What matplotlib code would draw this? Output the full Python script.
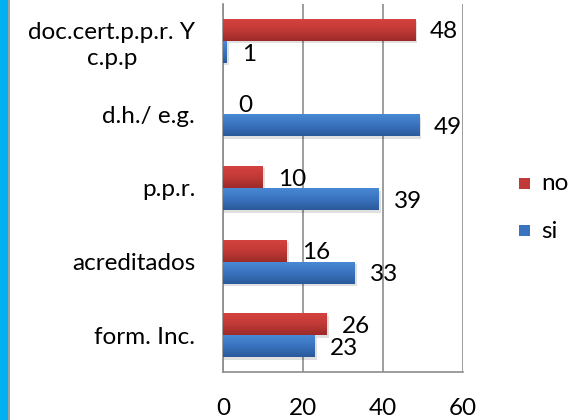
import numpy as np
import matplotlib.pyplot as plt
from matplotlib.patches import Rectangle
from matplotlib.colors import LinearSegmentedColormap

plt.rcParams['font.family'] = ['Lato', 'DejaVu Sans']

''' data '''
categories = ['form. Inc.', 'acreditados', 'p.p.r.', 'd.h./ e.g.', 'doc.cert.p.p.r. Y\nc.p.p']
si = [23, 33, 39, 49, 1]
no = [26, 16, 10, 0, 48]
xticks = [0, 20, 40, 60]

FS = 17.5

''' figure '''
fig = plt.figure(figsize=(5.87, 4.2), dpi=100)
fig.patches.append(Rectangle((0, 0), 8 / 587, 1, transform=fig.transFigure,
                             facecolor='#00b0f0', edgecolor='none', zorder=0))
fig.patches.append(Rectangle((8 / 587, 0), 1.5 / 587, 1, transform=fig.transFigure,
                             facecolor='#a0a0a0', edgecolor='none', zorder=0))

ax = fig.add_axes([223 / 587, 48 / 420, 240 / 587, 368 / 420])

y = np.arange(len(categories))
h = 0.30

red_cmap = LinearSegmentedColormap.from_list('r', ['#d6433f', '#c23a37', '#9c2a28'])
blue_cmap = LinearSegmentedColormap.from_list('b', ['#4a8ad6', '#3a74c0', '#2a5a9a'])


def gradient_bars(ypos, vals, cmap):
    bars = ax.barh(ypos, vals, height=h, color='none', edgecolor='none', zorder=3)
    grad = np.linspace(0, 1, 64).reshape(-1, 1)
    for b in bars:
        x0, y0 = b.get_x(), b.get_y()
        w, hh = b.get_width(), b.get_height()
        if w <= 0:
            continue
        # soft shadow under the bar
        ax.add_patch(Rectangle((x0, y0 - 0.035), w + 0.4, hh, facecolor='#000000',
                               alpha=0.12, edgecolor='none', zorder=2))
        im = ax.imshow(grad, cmap=cmap, aspect='auto', origin='upper',
                       extent=(x0, x0 + w, y0, y0 + hh), zorder=3)
        im.set_clip_path(b)
    return bars


gradient_bars(y + h / 2, no, red_cmap)
gradient_bars(y - h / 2, si, blue_cmap)

for yi, v in zip(y, no):
    ax.text(v + 3.8, yi + h / 2 - 0.03, str(v), va='center', ha='left', fontsize=FS)
for yi, v in zip(y, si):
    ax.text(v + 3.8, yi - h / 2 - 0.03, str(v), va='center', ha='left', fontsize=FS)

ax.set_xlim(0, 60)
ax.set_ylim(-0.5, 4.5)
ax.set_xticks(xticks)
ax.set_xticklabels([str(t) for t in xticks], fontsize=FS)
ax.set_yticks(y)
ax.set_yticklabels(categories, fontsize=FS, ha='right', multialignment='center',
                   linespacing=1.3)
ax.tick_params(axis='y', length=0, pad=20)
ax.tick_params(axis='x', length=0, pad=19)
ax.grid(axis='x', color='#8c8c8c', linewidth=1.2, zorder=1)
ax.set_axisbelow(True)
for s in ['top', 'right']:
    ax.spines[s].set_visible(False)
for s in ['left', 'bottom']:
    ax.spines[s].set_color('#8c8c8c')
    ax.spines[s].set_linewidth(1.2)

''' legend '''
fig.patches.append(Rectangle((519 / 587, (420 - 189) / 420), 11 / 587, 11 / 420,
                             transform=fig.transFigure, facecolor='#c23a37', edgecolor='none'))
fig.patches.append(Rectangle((519 / 587, (420 - 236) / 420), 11 / 587, 11 / 420,
                             transform=fig.transFigure, facecolor='#3a74c0', edgecolor='none'))
fig.text(541 / 587, (420 - 184) / 420, 'no', fontsize=FS, va='center')
fig.text(541 / 587, (420 - 231) / 420, 'si', fontsize=FS, va='center')

fig.savefig('out.png', dpi=100)
